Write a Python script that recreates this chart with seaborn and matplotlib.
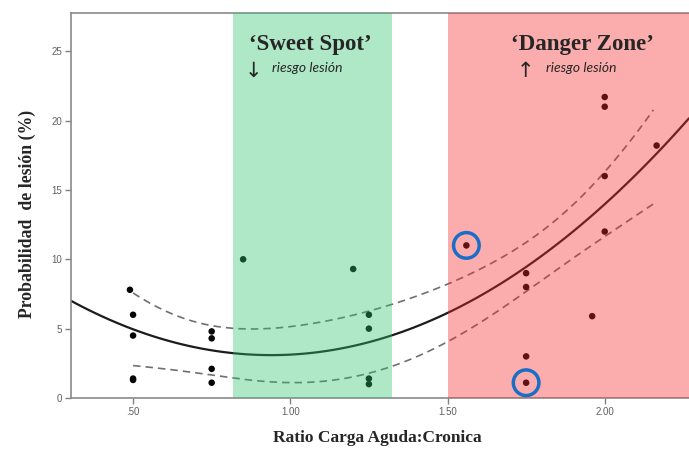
import numpy as np
import pandas as pd
import matplotlib
matplotlib.use("Agg")
import matplotlib.pyplot as plt
import seaborn as sns

# ---- data ----
ratio = [0.49, 0.50, 0.50, 0.50, 0.50,
         0.75, 0.75, 0.75, 0.75,
         0.85, 1.20, 1.25, 1.25, 1.25, 1.25,
         1.56, 1.75, 1.75, 1.75, 1.75,
         1.96, 2.00, 2.00, 2.00, 2.00, 2.165]
prob = [7.8, 6.0, 4.5, 1.4, 1.3,
        4.8, 4.3, 2.1, 1.1,
        10.0, 9.3, 6.0, 5.0, 1.4, 1.0,
        11.0, 9.0, 8.0, 3.0, 1.1,
        5.9, 21.7, 21.0, 16.0, 12.0, 18.2]
highlight_x = [1.56, 1.75]
highlight_y = [11.0, 1.1]
sweet_zone = [0.818, 1.325]
danger_zone = [1.50, 2.30]
x_ticks = [0.5, 1.0, 1.5, 2.0]
x_ticklabels = [".50", "1.00", "1.50", "2.00"]
y_ticks = [0, 5, 10, 15, 20, 25]
ci_mult = 1.5   # band multiplier that matches the drawn dashed interval

df = pd.DataFrame({"ratio": ratio, "prob": prob})

sns.set_style("white")
fig = plt.figure(figsize=(6.89, 4.5), dpi=100)
ax = fig.add_axes([0.103, 0.1156, 0.897, 0.8556])
ax.set_xlim(0.3025, 2.268)
ax.set_ylim(0, 27.76)

# quadratic fit line across full width
sns.regplot(data=df, x="ratio", y="prob", order=2, ci=None, truncate=False,
            scatter=False, ax=ax, line_kws=dict(color="#1c1c1c", lw=1.6, zorder=2))

# interval of the mean (dashed) from the same quadratic OLS
xa = np.asarray(ratio); ya = np.asarray(prob)
X = np.vander(xa, 3)
beta, *_ = np.linalg.lstsq(X, ya, rcond=None)
res = ya - X @ beta
s2 = res @ res / (len(xa) - 3)
cov = s2 * np.linalg.inv(X.T @ X)
xg = np.linspace(0.50, xa.max() - 0.01, 200)
Xg = np.vander(xg, 3)
fit = Xg @ beta
se = np.sqrt(np.einsum("ij,jk,ik->i", Xg, cov, Xg))
ci = pd.DataFrame({"x": xg, "lo": fit - ci_mult * se, "hi": fit + ci_mult * se})
for col in ["lo", "hi"]:
    sns.lineplot(data=ci, x="x", y=col, ax=ax, color="#707070", lw=1.2,
                 dashes=False, zorder=2).lines[-1].set_dashes((4.5, 3))

sns.scatterplot(data=df, x="ratio", y="prob", ax=ax, color="#050505",
                s=22, edgecolor="none", zorder=3)

# tinted zones (overlay)
ax.axvspan(*sweet_zone, color=(45/255, 195/255, 110/255), alpha=0.38, lw=0, zorder=4)
ax.axvspan(*danger_zone, color=(245/255, 39/255, 39/255), alpha=0.38, lw=0, zorder=4)

# highlighted points
ax.scatter(highlight_x, highlight_y, s=340, facecolors="none",
           edgecolors="#1a6ec8", linewidths=2.5, zorder=7)

# annotations
serif = "Liberation Serif"
ax.text(1.065, 25.1, "\u2018Sweet Spot\u2019", ha="center", va="baseline",
        fontsize=16.5, fontweight="bold", family=serif, zorder=6)
ax.text(1.928, 25.1, "\u2018Danger Zone\u2019", ha="center", va="baseline",
        fontsize=16.5, fontweight="bold", family=serif, zorder=6)
ax.text(0.882, 23.55, "\u2193", ha="center", va="center", fontsize=15,
        family="DejaVu Sans", zorder=6)
ax.text(1.748, 23.55, "\u2191", ha="center", va="center", fontsize=15,
        family="DejaVu Sans", zorder=6)
ax.text(0.943, 23.5, "riesgo lesión", ha="left", va="baseline", fontsize=10,
        style="italic", family="Lato", zorder=6)
ax.text(1.812, 23.5, "riesgo lesión", ha="left", va="baseline", fontsize=10,
        style="italic", family="Lato", zorder=6)

# axes styling
ax.set_xticks(x_ticks)
ax.set_xticklabels(x_ticklabels)
ax.set_yticks(y_ticks)
ax.tick_params(axis="both", which="major", direction="out", length=4.5, width=1,
               color="#808080", labelsize=7, labelcolor="#606060", pad=2,
               left=True, bottom=True)
for lab in ax.get_xticklabels() + ax.get_yticklabels():
    lab.set_family("Liberation Sans")
for side in ["left", "bottom", "top"]:
    ax.spines[side].set_visible(True)
    ax.spines[side].set_color("#8a8a8a")
    ax.spines[side].set_linewidth(1.2)
ax.spines["right"].set_visible(False)

ax.set_xlabel("Ratio Carga Aguda:Cronica", family=serif, fontweight="bold", fontsize=12.5)
ax.set_ylabel("Probabilidad  de lesión (%)", family=serif, fontweight="bold", fontsize=12.8)
ax.xaxis.set_label_coords(0.495, -0.104)
ax.yaxis.set_label_coords(-0.071, 0.478)
ax.xaxis.label.set_va("center")
ax.yaxis.label.set_va("center")

fig.savefig("out.png", dpi=100)
